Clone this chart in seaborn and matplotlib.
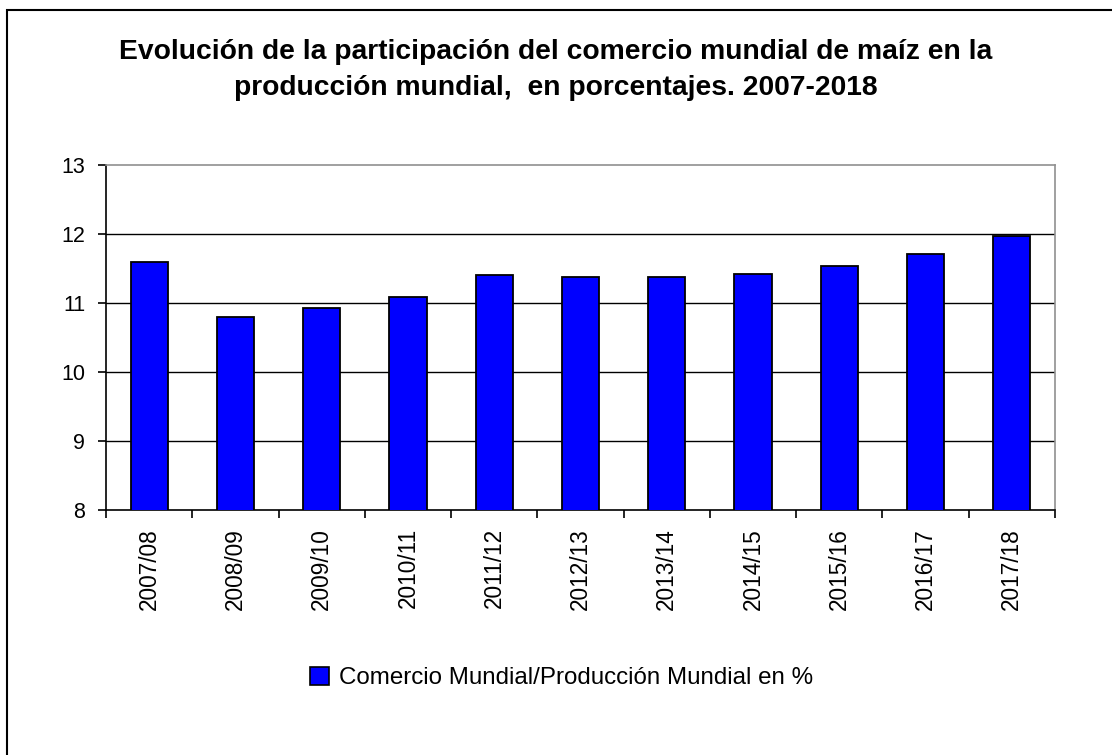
import matplotlib
matplotlib.use("Agg")
import matplotlib.pyplot as plt
import seaborn as sns
import pandas as pd
import numpy as np
from matplotlib.patches import Rectangle, Patch

# data
campanas = ["2007/08", "2008/09", "2009/10", "2010/11", "2011/12", "2012/13",
            "2013/14", "2014/15", "2015/16", "2016/17", "2017/18"]
participacion = [11.60, 10.79, 10.92, 11.08, 11.40, 11.37,
                 11.37, 11.42, 11.53, 11.71, 11.97]
serie = "Comercio Mundial/Producción Mundial en %"

df = pd.DataFrame({"campana": campanas, "valor": participacion})

sns.set_theme(style="white")
plt.rcParams["font.family"] = ["Liberation Sans", "DejaVu Sans"]
plt.rcParams["text.color"] = "black"
plt.rcParams["xtick.color"] = "black"
plt.rcParams["ytick.color"] = "black"
plt.rcParams["xtick.labelcolor"] = "black"
plt.rcParams["ytick.labelcolor"] = "black"

fig = plt.figure(figsize=(11.12, 7.55), dpi=100)
ax = fig.add_axes([106 / 1112, 1 - 509.7 / 755, (1055 - 106) / 1112, (509.7 - 165) / 755])

sns.barplot(data=df, x="campana", y="valor", color="#0000FF", saturation=1,
            width=0.43, edgecolor="black", linewidth=1.3, ax=ax, zorder=3)
ax.set_ylim(8, 13)
ax.set_xlim(-0.5, len(campanas) - 0.5)
ax.set_yticks([8, 9, 10, 11, 12, 13])
ax.set_xlabel("")
ax.set_ylabel("")

# gridlines
for v in [9, 10, 11, 12]:
    ax.axhline(v, color="black", lw=1, zorder=1)

for s in ["left", "bottom"]:
    ax.spines[s].set_color("black")
    ax.spines[s].set_linewidth(1.2)
for s in ["top", "right"]:
    ax.spines[s].set_color("#909090")
    ax.spines[s].set_linewidth(1.2)

ax.tick_params(axis="y", direction="out", length=6, width=1.2, color="black",
               labelsize=15.5, pad=9, left=True, labelcolor="black")
ax.tick_params(axis="x", which="major", length=0, labelsize=16.3, pad=13,
               labelrotation=90, labelcolor="black")
ax.set_xticks(np.arange(-0.5, len(campanas)), minor=True)
ax.tick_params(axis="x", which="minor", direction="out", length=6, width=1.2,
               color="black", bottom=True)

fig.text(0.5, 1 - 52 / 755, "Evolución de la participación del comercio mundial de maíz en la",
         ha="center", va="center", fontsize=20.3, fontweight="bold", color="black")
fig.text(0.5, 1 - 88 / 755, "producción mundial,  en porcentajes. 2007-2018",
         ha="center", va="center", fontsize=20.3, fontweight="bold", color="black")

handle = Patch(facecolor="#0000FF", edgecolor="black", linewidth=1.2)
fig.legend([handle], [serie], loc="center", bbox_to_anchor=(562 / 1112, 1 - 678 / 755),
           frameon=False, fontsize=17.4, handlelength=0.75, handleheight=0.75,
           handletextpad=0.45, labelcolor="black")

# outer chart frame
fig.patches.append(Rectangle((7 / 1112, -0.1), 1.2, 0.1 + 1 - 10 / 755,
                             transform=fig.transFigure, fill=False,
                             edgecolor="black", linewidth=1.5))

fig.savefig("out.png", dpi=100)
